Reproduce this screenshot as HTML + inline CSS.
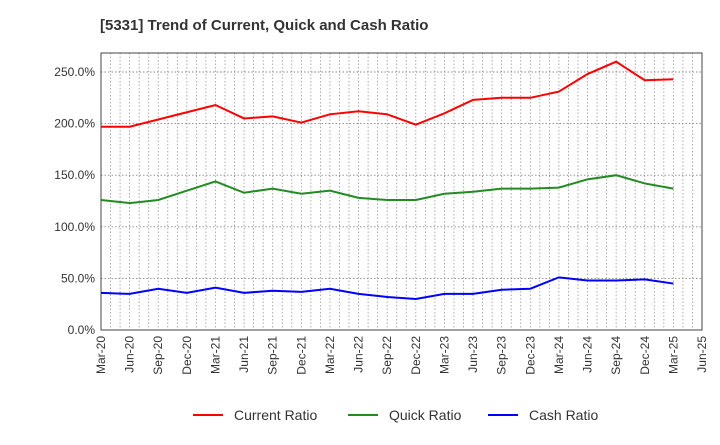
<!DOCTYPE html>
<html><head><meta charset="utf-8"><style>
body{margin:0;background:#fff;font-family:"Liberation Sans",sans-serif}
</style></head><body>
<svg id="c" width="720" height="440" xmlns="http://www.w3.org/2000/svg">
<text x="100" y="30" font-size="15" font-weight="bold" fill="#333">[5331]  Trend of Current, Quick and Cash Ratio</text>
<g id="grid"></g><g id="axes"></g><g id="series"></g><g id="legend"></g>
</svg>
<script>
const categories=["Mar-20","Jun-20","Sep-20","Dec-20","Mar-21","Jun-21","Sep-21","Dec-21","Mar-22","Jun-22","Sep-22","Dec-22","Mar-23","Jun-23","Sep-23","Dec-23","Mar-24","Jun-24","Sep-24","Dec-24","Mar-25"];
const tickLabels=["Mar-20","Jun-20","Sep-20","Dec-20","Mar-21","Jun-21","Sep-21","Dec-21","Mar-22","Jun-22","Sep-22","Dec-22","Mar-23","Jun-23","Sep-23","Dec-23","Mar-24","Jun-24","Sep-24","Dec-24","Mar-25","Jun-25"];
const yTicks=[0,50,100,150,200,250];
const currentRatio=[197,197,204,211,218,205,207,201,209,212,209,199,210,223,225,225,231,248,260,242,243];
const quickRatio=[126,123,126,135,144,133,137,132,135,128,126,126,132,134,137,137,138,146,150,142,137];
const cashRatio=[36,35,40,36,41,36,38,37,40,35,32,30,35,35,39,40,51,48,48,49,45];
const L=101,R=702,T=53,B=330,NS="http://www.w3.org/2000/svg";
const x=i=>L+i*(R-L)/21;
const y=v=>B-v*(B-72)/250;
function mk(t,a,p){const e=document.createElementNS(NS,t);for(const k in a)e.setAttribute(k,a[k]);p.appendChild(e);return e;}
const g=document.getElementById('grid'),ax=document.getElementById('axes'),s=document.getElementById('series'),lg=document.getElementById('legend');
for(let m=1;m<63;m++){const xx=L+m*(R-L)/63;
const ln=mk('line',{x1:xx,x2:xx,y1:T,y2:B,stroke:'#999','stroke-dasharray':'1.5,2','stroke-width':0.8},g);

}
yTicks.forEach(v=>{
const ln=mk('line',{x1:L,x2:R,y1:y(v),y2:y(v),stroke:'#888','stroke-dasharray':'1.5,2','stroke-width':0.9},g);


const t=mk('text',{x:L-6,y:y(v)+4,'text-anchor':'end','font-size':12,fill:'#333'},ax);t.textContent=v.toFixed(1)+'%';

});
const fr=mk('rect',{x:L,y:T,width:R-L,height:B-T,fill:'none',stroke:'#444','stroke-width':1},ax);


tickLabels.forEach((l,i)=>{const t=mk('text',{transform:`translate(${x(i)+4},${B+6}) rotate(-90)`,'text-anchor':'end','font-size':12,fill:'#333'},ax);t.textContent=l;

});
const ser=[["current-ratio-line",currentRatio,"#f00"],["quick-ratio-line",quickRatio,"#228b22"],["cash-ratio-line",cashRatio,"#00f"]];
ser.forEach(([n,d,c])=>{const p=mk('polyline',{points:d.map((v,i)=>x(i)+','+y(v)).join(' '),fill:'none',stroke:c,'stroke-width':2},s);

});
const leg=[["Current Ratio","#f00",193],["Quick Ratio","#228b22",348],["Cash Ratio","#00f",488]];
leg.forEach(([n,c,lx])=>{const gg=mk('g',{},lg);


mk('line',{x1:lx,x2:lx+30,y1:415,y2:415,stroke:c,'stroke-width':2},gg);
const t=mk('text',{x:lx+41,y:420,'font-size':14,fill:'#333'},gg);t.textContent=n;});
</script>
</body></html>
